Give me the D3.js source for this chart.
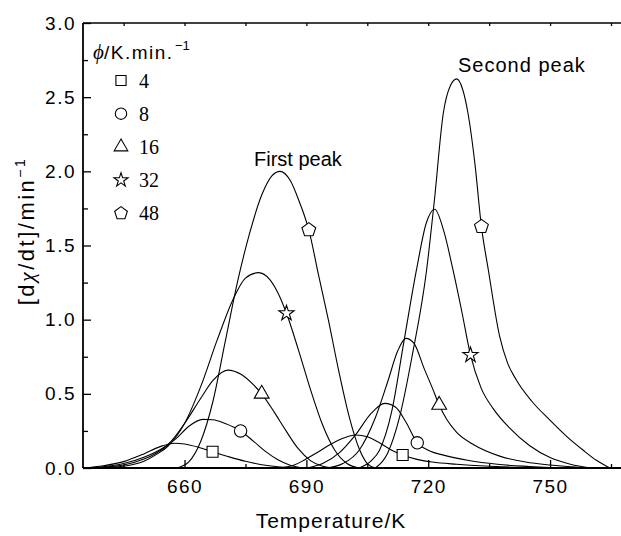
<!DOCTYPE html>
<html lang="en">
<head>
<meta charset="utf-8">
<style>
  body { margin: 0; background: #fff; }
  text { font-family: "Liberation Sans", Arial, sans-serif; fill: #000; }
  .serif { font-family: "Liberation Serif", "Times New Roman", serif; }
</style>
<script src="https://cdn.jsdelivr.net/npm/d3@7"></script>
</head>
<body>
<svg id="chart" width="621" height="536"></svg>
<script>
// heating rates, K/min
var rates = [4, 8, 16, 32, 48];

// first peak curves [T (K), dx/dt (1/min)]
var first4 = [[635,0],[640,0.015],[645,0.043],[650,0.095],[654,0.144],[657.5,0.167],[660,0.162],[664,0.135],[666.9,0.11],[671,0.075],[675,0.045],[679,0.022],[683,0.008],[687,0]];
var first8 = [[635,0],[640,0.008],[645,0.03],[650,0.072],[655,0.14],[658,0.2],[661,0.28],[664.5,0.328],[667,0.325],[670,0.3],[673.8,0.25],[677,0.18],[680,0.11],[683,0.055],[686,0.018],[689,0]];
var first16 = [[635,0],[640,0.005],[645,0.02],[650,0.06],[653,0.1],[656,0.16],[660,0.3],[664,0.47],[667,0.59],[670.6,0.66],[674,0.63],[677,0.56],[679,0.5],[682,0.38],[685,0.25],[688,0.13],[691,0.05],[694,0.012],[697,0]];
var first32 = [[635,0],[640,0.003],[645,0.012],[650,0.045],[653,0.09],[656,0.15],[660,0.3],[664,0.55],[668,0.86],[672,1.14],[675,1.28],[678.2,1.317],[681,1.27],[683,1.18],[685.1,1.043],[688,0.8],[691,0.53],[694,0.29],[697,0.12],[700,0.03],[703,0]];
var first48 = [[658,0],[661,0.04],[664,0.18],[667,0.45],[670,0.85],[673,1.25],[676,1.58],[679,1.84],[681.5,1.97],[683.5,2.0],[686,1.94],[688.4,1.785],[690.6,1.605],[693,1.3],[695.4,1.0],[698,0.65],[700.5,0.35],[703,0.13],[705,0.03],[707,0]];

// second peak curves
var second4 = [[683,0],[687,0.02],[689.5,0.054],[693,0.11],[696,0.16],[699,0.2],[702.2,0.222],[705,0.21],[708,0.17],[711,0.12],[713.7,0.088],[717,0.06],[721,0.04],[727,0.025],[734,0.013],[742,0.005],[750,0]];
var second8 = [[690,0],[694,0.03],[698,0.1],[702,0.22],[706,0.37],[709.3,0.436],[712,0.41],[714.5,0.31],[717.3,0.17],[720,0.12],[724,0.085],[730,0.05],[737,0.025],[745,0.01],[752,0]];
var second16 = [[695,0],[699,0.03],[703,0.12],[707,0.34],[710,0.58],[712.5,0.79],[714.5,0.874],[716.5,0.84],[719,0.67],[721,0.54],[722.7,0.425],[724.5,0.33],[727,0.24],[731,0.16],[737.6,0.08],[744,0.04],[750,0.02],[757,0.005],[762,0]];
var second32 = [[703,0],[706,0.05],[708,0.12],[711,0.38],[714,0.85],[717.1,1.335],[719.5,1.65],[721.6,1.744],[723.8,1.6],[726.1,1.335],[728.3,1.05],[730.4,0.762],[733,0.54],[736,0.4],[740,0.27],[745,0.15],[750,0.07],[755,0.025],[760,0]];
var second48 = [[707,0],[710,0.1],[713,0.35],[716,0.75],[719.6,1.335],[721.5,1.8],[723.7,2.39],[725.5,2.58],[727,2.623],[728.5,2.55],[729.8,2.39],[731.5,2.05],[733.1,1.627],[734.8,1.335],[737.6,0.885],[739.5,0.71],[741.7,0.593],[745.5,0.45],[749.9,0.324],[754,0.215],[758.1,0.121],[761.5,0.05],[764.7,0]];

// marker points on each curve
var markFirst = [[666.9,0.11],[673.8,0.25],[679,0.5],[685.1,1.043],[690.6,1.605]];
var markSecond = [[713.7,0.088],[717.3,0.17],[722.7,0.425],[730.4,0.762],[733.1,1.627]];

// ticks
var xMajor = [660, 690, 720, 750];
var xMinor = [645, 675, 705, 735, 765];
var yMajor = [0, 0.5, 1.0, 1.5, 2.0, 2.5, 3.0];
var yMinor = [0.25, 0.75, 1.25, 1.75, 2.25, 2.75];

var firstCurves = [first4, first8, first16, first32, first48];
var secondCurves = [second4, second8, second16, second32, second48];

var svg = d3.select("#chart");

var x = d3.scaleLinear().domain([635, 765]).range([83, 611]);
var y = d3.scaleLinear().domain([0, 3]).range([468, 23]);

// regular pentagon symbol
var symbolPentagon = {
  draw: function(ctx, size) {
    var r = Math.sqrt(size / 2.3776);
    for (var i = 0; i < 5; i++) {
      var a = -Math.PI / 2 + i * 2 * Math.PI / 5;
      if (i === 0) ctx.moveTo(r * Math.cos(a), r * Math.sin(a));
      else ctx.lineTo(r * Math.cos(a), r * Math.sin(a));
    }
    ctx.closePath();
  }
};
var shapes = [
  d3.symbol().type(d3.symbolSquare).size(121),
  d3.symbol().type(d3.symbolCircle).size(120),
  d3.symbol().type(d3.symbolTriangle).size(95),
  d3.symbol().type(d3.symbolStar).size(72),
  d3.symbol().type(symbolPentagon).size(125)
];

// axes (major and minor ticks in separate groups)
var fontFam = '"Liberation Sans", Arial, sans-serif';

svg.append("g").attr("transform", "translate(0," + y(0) + ")")
  .call(d3.axisBottom(x).tickValues(xMajor).tickSize(-8).tickPadding(12).tickFormat(d3.format("d")));
svg.append("g").attr("transform", "translate(0," + y(0) + ")")
  .call(d3.axisBottom(x).tickValues(xMinor).tickSize(-4).tickFormat(""));

svg.append("g").attr("transform", "translate(" + x(635) + ",0)")
  .call(d3.axisLeft(y).tickValues(yMajor).tickSize(-8).tickPadding(7).tickFormat(d3.format(".1f")));
svg.append("g").attr("transform", "translate(" + x(635) + ",0)")
  .call(d3.axisLeft(y).tickValues(yMinor).tickSize(-5).tickFormat(""));

svg.append("g").attr("transform", "translate(0," + y(3) + ")")
  .call(d3.axisTop(x).tickValues(xMajor.concat(xMinor)).tickSize(-3).tickFormat(""));

svg.selectAll(".domain").remove();
svg.selectAll(".tick line").attr("stroke", "#000").attr("stroke-width", 1.3);
svg.selectAll(".tick text")
  .attr("font-family", fontFam).attr("font-size", 19)
  .attr("letter-spacing", 1.5).attr("fill", "#000");

// frame lines
svg.append("line").attr("x1", x(635)).attr("x2", x(635)).attr("y1", y(3)).attr("y2", y(0))
  .attr("stroke", "#000").attr("stroke-width", 1.8);
svg.append("line").attr("x1", x(635)).attr("x2", 621).attr("y1", y(0)).attr("y2", y(0))
  .attr("stroke", "#000").attr("stroke-width", 2);
svg.append("line").attr("x1", x(635)).attr("x2", 621).attr("y1", y(3)).attr("y2", y(3))
  .attr("stroke", "#000").attr("stroke-width", 1.5);

// curves
var line = d3.line()
  .x(function(d) { return x(d[0]); })
  .y(function(d) { return y(d[1]); })
  .curve(d3.curveMonotoneX);

svg.append("g").selectAll("path")
  .data(firstCurves.concat(secondCurves))
  .enter().append("path")
  .attr("d", line)
  .attr("fill", "none")
  .attr("stroke", "#000")
  .attr("stroke-width", 1.1);

// markers
var marks = svg.append("g");
[markFirst, markSecond].forEach(function(set) {
  marks.selectAll(null)
    .data(set)
    .enter().append("path")
    .attr("transform", function(d) { return "translate(" + x(d[0]) + "," + y(d[1]) + ")"; })
    .attr("d", function(d, i) { return shapes[i](); })
    .attr("fill", "#fff")
    .attr("stroke", "#000")
    .attr("stroke-width", 1.1);
});

// legend title
svg.append("text").attr("class", "serif").attr("x", 93).attr("y", 59)
  .attr("font-size", 21).attr("font-style", "italic").attr("fill", "#e8221b").text("ϕ");
svg.append("text").attr("x", 104).attr("y", 59)
  .attr("font-size", 19).attr("letter-spacing", 1.5).text("/K.min.");
svg.append("text").attr("x", 175).attr("y", 50)
  .attr("font-size", 13).text("−1");

var leg = svg.append("g").selectAll("g")
  .data(rates)
  .enter().append("g")
  .attr("transform", function(d, i) { return "translate(121," + (80.5 + i * 33.2) + ")"; });
leg.append("path")
  .attr("d", function(d, i) { return d3.symbol().type(shapes[i].type()).size(shapes[i].size()() * 0.85)(); })
  .attr("fill", "#fff").attr("stroke", "#000").attr("stroke-width", 1.1);
leg.append("text")
  .attr("class", "serif")
  .attr("x", 18).attr("y", 7)
  .attr("font-size", 20)
  .text(function(d) { return d; });

// annotations
svg.append("text").attr("x", 254).attr("y", 166).attr("font-size", 20).text("First peak");
svg.append("text").attr("x", 458).attr("y", 72).attr("font-size", 20).attr("letter-spacing", 1).text("Second peak");

// axis titles
svg.append("text")
  .attr("x", 331).attr("y", 528)
  .attr("text-anchor", "middle").attr("font-size", 21).attr("letter-spacing", 1)
  .text("Temperature/K");

var yl = svg.append("text")
  .attr("transform", "translate(34,231) rotate(-90)")
  .attr("text-anchor", "middle").attr("font-size", 22).attr("letter-spacing", 2.5);
yl.append("tspan").text("[d");
yl.append("tspan").attr("class", "serif").attr("font-style", "italic").text("χ");
yl.append("tspan").text("/dt]/min");
yl.append("tspan").attr("dy", -9).attr("font-size", 14).text("−1");
</script>
</body>
</html>
